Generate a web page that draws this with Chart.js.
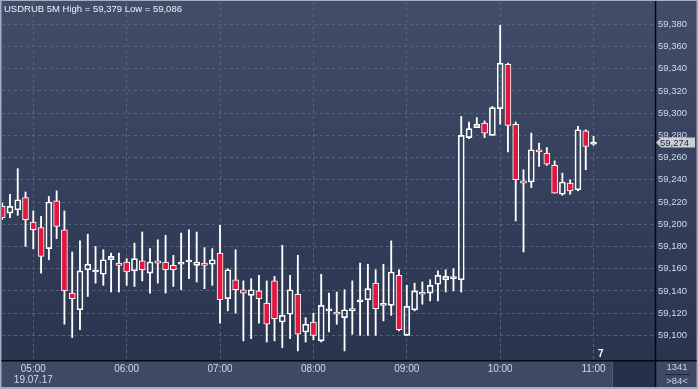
<!DOCTYPE html>
<html>
<head>
<meta charset="utf-8">
<script src="https://cdn.jsdelivr.net/npm/chart.js@4.4.1/dist/chart.umd.min.js"></script>
<style>
html, body { margin: 0; padding: 0; background: #a3aec0; }
canvas { display: block; }
</style>
</head>
<body>
<canvas id="chart" width="698" height="389"></canvas>
<script>
// USDRUB 5 minute candles, 04:40 .. 11:00 (index 0 = 04:40)
const opens = [
    59.216, 59.210, 59.213, 59.224, 59.202, 59.197, 59.178, 59.221, 59.195, 59.138,
    59.123, 59.159, 59.157, 59.155, 59.168, 59.165, 59.166, 59.158, 59.167, 59.156,
    59.167, 59.166, 59.163, 59.164, 59.166, 59.163, 59.165, 59.164, 59.174, 59.133,
    59.150, 59.141, 59.136, 59.140, 59.129, 59.149, 59.112, 59.119, 59.137, 59.103,
    59.112, 59.095, 59.122, 59.121, 59.116, 59.122, 59.130, 59.132, 59.147, 59.127,
    59.127, 59.154, 59.100, 59.123, 59.139, 59.138, 59.146, 59.150, 59.151, 59.150,
    59.278, 59.287, 59.291, 59.280, 59.304, 59.344, 59.290, 59.239, 59.238, 59.267,
    59.264, 59.253, 59.227, 59.237, 59.231, 59.284, 59.272
];
const highs = [
    59.219, 59.227, 59.250, 59.229, 59.212, 59.207, 59.225, 59.230, 59.212, 59.175,
    59.185, 59.191, 59.180, 59.177, 59.174, 59.174, 59.169, 59.183, 59.193, 59.178,
    59.186, 59.190, 59.172, 59.192, 59.195, 59.193, 59.179, 59.178, 59.199, 59.160,
    59.177, 59.149, 59.151, 59.154, 59.149, 59.153, 59.181, 59.154, 59.172, 59.116,
    59.120, 59.155, 59.138, 59.139, 59.141, 59.149, 59.165, 59.164, 59.159, 59.164,
    59.185, 59.159, 59.145, 59.147, 59.148, 59.150, 59.158, 59.159, 59.160, 59.297,
    59.292, 59.296, 59.293, 59.306, 59.379, 59.345, 59.292, 59.249, 59.282, 59.273,
    59.269, 59.257, 59.246, 59.240, 59.288, 59.285, 59.279
];
const lows = [
    59.204, 59.206, 59.208, 59.180, 59.178, 59.156, 59.168, 59.187, 59.110, 59.098,
    59.105, 59.135, 59.147, 59.145, 59.139, 59.139, 59.145, 59.144, 59.149, 59.138,
    59.147, 59.138, 59.144, 59.141, 59.151, 59.148, 59.142, 59.145, 59.111, 59.122,
    59.120, 59.095, 59.097, 59.111, 59.094, 59.095, 59.089, 59.097, 59.086, 59.094,
    59.096, 59.094, 59.103, 59.110, 59.086, 59.101, 59.100, 59.100, 59.100, 59.113,
    59.118, 59.104, 59.100, 59.122, 59.128, 59.131, 59.131, 59.139, 59.140, 59.139,
    59.277, 59.287, 59.278, 59.280, 59.290, 59.265, 59.203, 59.175, 59.233, 59.252,
    59.253, 59.228, 59.226, 59.227, 59.230, 59.249, 59.271
];
const closes = [
    59.206, 59.216, 59.222, 59.204, 59.195, 59.171, 59.220, 59.198, 59.140, 59.133,
    59.158, 59.164, 59.158, 59.168, 59.171, 59.163, 59.157, 59.169, 59.159, 59.166,
    59.165, 59.159, 59.159, 59.165, 59.167, 59.166, 59.163, 59.168, 59.132, 59.159,
    59.141, 59.138, 59.141, 59.133, 59.110, 59.115, 59.118, 59.141, 59.101, 59.110,
    59.100, 59.127, 59.123, 59.119, 59.123, 59.124, 59.132, 59.142, 59.124, 59.128,
    59.157, 59.105, 59.126, 59.140, 59.137, 59.145, 59.154, 59.153, 59.152, 59.280,
    59.286, 59.290, 59.282, 59.305, 59.345, 59.289, 59.240, 59.237, 59.267, 59.265,
    59.254, 59.228, 59.238, 59.230, 59.285, 59.270, 59.274
];

const hourTicks = [4, 16, 28, 40, 52, 64, 76];
const hourLabels = ['05:00', '06:00', '07:00', '08:00', '09:00', '10:00', '11:00'];
const dateLabel = '19.07.17';
const priceTicks = [59.100, 59.120, 59.140, 59.160, 59.180, 59.200, 59.220, 59.240,
    59.260, 59.280, 59.300, 59.320, 59.340, 59.360, 59.380];

const symbol = 'USDRUB 5M';
const barCountText = '1341';
const zoomText = '>84<';
const cornerText = '7';

const fmt = v => v.toFixed(3).replace('.', ',');

const idx = opens.map((_, i) => i);
const bodyData = idx.map(i => ({ x: i, y: [Math.min(opens[i], closes[i]), Math.max(opens[i], closes[i])] }));
const upperData = idx.map(i => ({ x: i, y: [Math.max(opens[i], closes[i]), highs[i]] }));
const lowerData = idx.map(i => ({ x: i, y: [lows[i], Math.min(opens[i], closes[i])] }));
const bodyColors = idx.map(i => closes[i] < opens[i] ? '#e3173e' : 'rgba(0,0,0,0)');

const frame = {
    id: 'frame',
    beforeDraw(chart) {
        const { ctx, chartArea: a, width, height } = chart;
        ctx.save();
        ctx.fillStyle = '#a3aec0';
        ctx.fillRect(0, 0, width, height);
        const g = ctx.createLinearGradient(0, 0, 0, a.bottom);
        g.addColorStop(0, '#414d69');
        g.addColorStop(1, '#29344f');
        ctx.fillStyle = g;
        ctx.fillRect(1.5, 1, width - 3, a.bottom);
        // time axis strip
        ctx.fillStyle = '#3e4a64';
        ctx.fillRect(1.5, a.bottom, width - 3, height - a.bottom - 2);
        ctx.fillStyle = '#26304a';
        ctx.fillRect(613, a.bottom + 1, a.right - 613, height - a.bottom - 3);
        ctx.strokeStyle = '#4f5b74';
        ctx.lineWidth = 1;
        ctx.beginPath();
        ctx.moveTo(612.5, a.bottom + 1);
        ctx.lineTo(612.5, height - 2);
        ctx.stroke();
        ctx.restore();
    },
    afterDraw(chart) {
        const { ctx, chartArea: a, width, height } = chart;
        const y = chart.scales.y;
        ctx.save();
        // separators
        ctx.strokeStyle = '#05080f';
        ctx.lineWidth = 1.5;
        ctx.beginPath();
        ctx.moveTo(a.right + 0.5, 1);
        ctx.lineTo(a.right + 0.5, height - 2);
        ctx.moveTo(1.5, a.bottom + 0.75);
        ctx.lineTo(width - 1.5, a.bottom + 0.75);
        ctx.stroke();

        // header
        ctx.font = '9.5px "Liberation Sans"';
        ctx.fillStyle = '#eef2fa';
        ctx.textBaseline = 'middle';
        ctx.textAlign = 'left';
        const hi = Math.max(...highs), lo = Math.min(...lows);
        ctx.fillText(`${symbol} High = ${fmt(hi)} Low = ${fmt(lo)}`, 4, 9);

        // last price marker
        const last = closes[closes.length - 1];
        const py = Math.round(y.getPixelForValue(last)) + 0.5;
        ctx.fillStyle = '#c9cdd4';
        ctx.beginPath();
        ctx.moveTo(a.right + 1, py);
        ctx.lineTo(a.right + 6, py - 5);
        ctx.lineTo(width - 3, py - 5);
        ctx.lineTo(width - 3, py + 5);
        ctx.lineTo(a.right + 6, py + 5);
        ctx.closePath();
        ctx.fill();
        ctx.fillStyle = '#1c2434';
        ctx.font = '9.5px "Liberation Sans"';
        ctx.fillText(fmt(last), a.right + 5, py + 0.5);

        // corner counter
        ctx.fillStyle = '#ffffff';
        ctx.font = 'bold 10px "Liberation Sans"';
        ctx.fillText(cornerText, 598, a.bottom - 6);

        // bar count box
        ctx.fillStyle = '#c8d3e8';
        ctx.font = '9.5px "Liberation Sans"';
        ctx.textAlign = 'center';
        ctx.fillText(barCountText, 677, a.bottom + 7);
        ctx.fillText(zoomText, 677, a.bottom + 21);
        ctx.strokeStyle = '#1c2436';
        ctx.lineWidth = 1;
        ctx.beginPath();
        ctx.moveTo(665, a.bottom + 14.5);
        ctx.lineTo(690, a.bottom + 14.5);
        ctx.stroke();
        ctx.restore();
    }
};

const common = { grouped: false, borderSkipped: false };

new Chart(document.getElementById('chart'), {
    type: 'bar',
    data: {
        datasets: [
            { ...common, data: upperData, barThickness: 1.2, backgroundColor: '#ffffff', borderWidth: 0 },
            { ...common, data: lowerData, barThickness: 1.2, backgroundColor: '#ffffff', borderWidth: 0 },
            { ...common, data: bodyData, barThickness: 6, minBarLength: 2, backgroundColor: bodyColors, borderColor: '#ffffff', borderWidth: 1 }
        ]
    },
    options: {
        responsive: false,
        devicePixelRatio: 1,
        animation: false,
        layout: { padding: { left: 2, top: 2, right: 2, bottom: 3 } },
        plugins: { legend: { display: false }, tooltip: { enabled: false } },
        scales: {
            x: {
                type: 'linear',
                offset: false,
                bounds: 'data',
                min: -0.023,
                max: 83.9,
                afterBuildTicks: s => { s.ticks = hourTicks.map(v => ({ value: v })); },
                afterFit: s => { s.height = 26; s.paddingLeft = 0; s.paddingRight = 0; },
                grid: { color: '#56637e', drawTicks: false, offset: false },
                border: { display: false, dash: [3, 3] },
                ticks: {
                    autoSkip: false,
                    maxRotation: 0,
                    padding: 3,
                    color: '#cfd9ee',
                    font: { family: 'Liberation Sans', size: 10, lineHeight: 1.15 },
                    callback: v => {
                        const k = hourTicks.indexOf(v);
                        if (k < 0) return '';
                        return k === 0 ? [hourLabels[k], dateLabel] : hourLabels[k];
                    }
                }
            },
            y: {
                position: 'right',
                min: 59.0778,
                max: 59.400,
                afterBuildTicks: s => { s.ticks = priceTicks.map(v => ({ value: v })); },
                afterFit: s => { s.width = 41; s.paddingTop = 0; s.paddingBottom = 0; },
                grid: { color: '#56637e', drawTicks: false },
                border: { display: false, dash: [3, 3] },
                ticks: {
                    padding: 3,
                    color: '#cfd9ee',
                    font: { family: 'Liberation Sans', size: 9.5 },
                    callback: v => fmt(v)
                }
            }
        }
    },
    plugins: [frame]
});
</script>
</body>
</html>
